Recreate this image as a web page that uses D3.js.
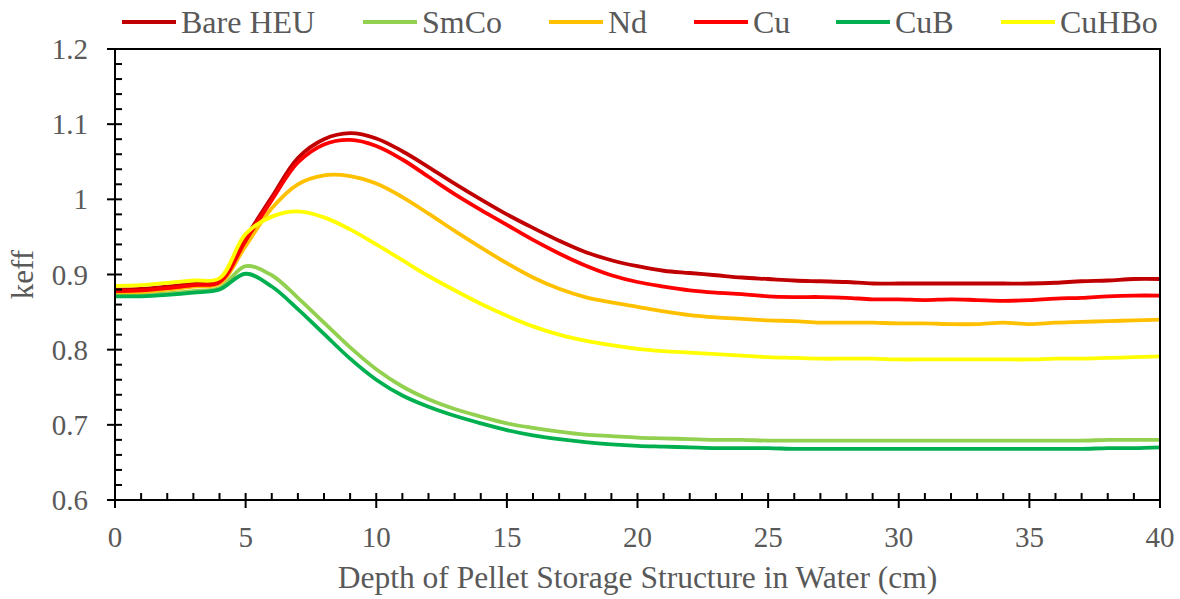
<!DOCTYPE html>
<html>
<head>
<meta charset="utf-8">
<script src="https://cdn.jsdelivr.net/npm/d3@7"></script>
<style>
  body { margin: 0; background: #fff; }
</style>
</head>
<body>
<div id="chart"></div>
<script>
// depth in cm, one point per cm
const depth = d3.range(0, 41)

const bareHEU = [0.880, 0.881, 0.884, 0.888, 0.894, 0.949, 1.003, 1.055, 1.080, 1.088,
  1.081, 1.064, 1.043, 1.021, 1.000, 0.980, 0.962, 0.945, 0.930, 0.919,
  0.911, 0.905, 0.902, 0.899, 0.896, 0.894, 0.892, 0.891, 0.890, 0.888,
  0.888, 0.888, 0.888, 0.888, 0.888, 0.888, 0.889, 0.891, 0.892, 0.894, 0.894]
const smco = [0.872, 0.873, 0.875, 0.878, 0.882, 0.911, 0.899, 0.869, 0.836, 0.803,
  0.774, 0.751, 0.734, 0.721, 0.711, 0.702, 0.696, 0.691, 0.687, 0.685,
  0.683, 0.682, 0.681, 0.680, 0.680, 0.679, 0.679, 0.679, 0.679, 0.679,
  0.679, 0.679, 0.679, 0.679, 0.679, 0.679, 0.679, 0.679, 0.680, 0.680, 0.680]
const nd = [0.876, 0.877, 0.880, 0.884, 0.888, 0.938, 0.988, 1.020, 1.032, 1.031,
  1.021, 1.003, 0.981, 0.958, 0.936, 0.915, 0.896, 0.881, 0.870, 0.863,
  0.857, 0.851, 0.846, 0.843, 0.841, 0.839, 0.838, 0.836, 0.836, 0.836,
  0.835, 0.835, 0.834, 0.834, 0.836, 0.834, 0.836, 0.837, 0.838, 0.839, 0.840]
const cu = [0.878, 0.879, 0.882, 0.886, 0.890, 0.945, 0.999, 1.049, 1.073, 1.079,
  1.071, 1.053, 1.030, 1.007, 0.986, 0.966, 0.946, 0.928, 0.912, 0.899,
  0.890, 0.884, 0.879, 0.876, 0.874, 0.871, 0.870, 0.870, 0.869, 0.867,
  0.867, 0.866, 0.867, 0.866, 0.865, 0.866, 0.868, 0.869, 0.871, 0.872, 0.872]
const cub = [0.871, 0.871, 0.873, 0.876, 0.880, 0.901, 0.884, 0.854, 0.821, 0.788,
  0.760, 0.739, 0.724, 0.712, 0.702, 0.693, 0.686, 0.681, 0.677, 0.674,
  0.672, 0.671, 0.670, 0.669, 0.669, 0.669, 0.668, 0.668, 0.668, 0.668,
  0.668, 0.668, 0.668, 0.668, 0.668, 0.668, 0.668, 0.668, 0.669, 0.669, 0.670]
const cuhbo = [0.885, 0.886, 0.889, 0.892, 0.895, 0.954, 0.977, 0.984, 0.976, 0.960,
  0.940, 0.919, 0.898, 0.879, 0.861, 0.845, 0.831, 0.820, 0.812, 0.806,
  0.801, 0.798, 0.796, 0.794, 0.792, 0.790, 0.789, 0.788, 0.788, 0.788,
  0.787, 0.787, 0.787, 0.787, 0.787, 0.787, 0.788, 0.788, 0.789, 0.790, 0.791]

const seriesNames = ['Bare HEU', 'SmCo', 'Nd', 'Cu', 'CuB', 'CuHBo']
const seriesValues = [bareHEU, smco, nd, cu, cub, cuhbo]
const seriesColors = ['#C00000', '#92D050', '#FFC000', '#FF0000', '#00B050', '#FFFF00']

const xTicks = [0, 5, 10, 15, 20, 25, 30, 35, 40]
const yTicks = [0.6, 0.7, 0.8, 0.9, 1.0, 1.1, 1.2]

const W = 1180, H = 599
const M = { left: 115, right: 20, top: 49, bottom: 99 }
const textColor = '#595959'
const serif = '"Liberation Serif", "DejaVu Serif", "Times New Roman", serif'

const svg = d3.select('#chart').append('svg')
  .attr('width', W).attr('height', H)
  .attr('font-family', serif)
  .style('display', 'block')

const x = d3.scaleLinear().domain([0, 40]).range([M.left, W - M.right])
const y = d3.scaleLinear().domain([0.6, 1.2]).range([H - M.bottom, M.top])

// ── Series ────────────────────────────────────────────────────────────────
const line = d3.line()
  .x(d => x(d[0]))
  .y(d => y(d[1]))
  .curve(d3.curveCatmullRom.alpha(0.5))

const lineLayer = svg.append('g')
seriesValues.forEach((vals, i) => {
  lineLayer.append('path')
    .datum(depth.map((d, j) => [d, vals[j]]))
    .attr('fill', 'none')
    .attr('stroke', seriesColors[i])
    .attr('stroke-width', 3.8)
    .attr('stroke-linejoin', 'round')
    .attr('d', line)
})

// ── Frame + ticks ────────────────────────────────────────────────────────
svg.append('rect')
  .attr('x', x(0)).attr('y', y(1.2))
  .attr('width', x(40) - x(0)).attr('height', y(0.6) - y(1.2))
  .attr('fill', 'none').attr('stroke', '#000').attr('stroke-width', 2)

const tickLayer = svg.append('g').attr('stroke', '#000').attr('stroke-width', 2)
d3.range(0.6, 1.2001, 0.02).forEach(v => {
  const major = Math.abs(Math.round(v * 10) - v * 10) < 1e-6
  tickLayer.append('line')
    .attr('x1', x(0) - (major ? 8 : 0)).attr('x2', x(0) + 7)
    .attr('y1', y(v)).attr('y2', y(v))
})
d3.range(0, 41, 1).forEach(v => {
  const major = v % 5 === 0
  tickLayer.append('line')
    .attr('x1', x(v)).attr('x2', x(v))
    .attr('y1', y(0.6) - 7).attr('y2', y(0.6) + (major ? 8 : 0))
})

// ── Tick labels ──────────────────────────────────────────────────────────
svg.append('g').selectAll('text')
  .data(yTicks)
  .join('text')
  .attr('x', x(0) - 27)
  .attr('y', d => y(d))
  .attr('dy', '0.35em')
  .attr('text-anchor', 'end')
  .attr('fill', textColor)
  .style('font-size', '29px')
  .text(d => d3.format('~g')(d))

svg.append('g').selectAll('text')
  .data(xTicks)
  .join('text')
  .attr('x', d => x(d))
  .attr('y', 547)
  .attr('text-anchor', 'middle')
  .attr('fill', textColor)
  .style('font-size', '29px')
  .text(d => d)

// ── Axis titles ──────────────────────────────────────────────────────────
svg.append('text')
  .attr('x', (x(0) + x(40)) / 2).attr('y', 588)
  .attr('text-anchor', 'middle')
  .attr('fill', textColor)
  .style('font-size', '31.5px')
  .text('Depth of Pellet Storage Structure in Water (cm)')

svg.append('text')
  .attr('transform', `translate(33, ${(y(0.6) + y(1.2)) / 2}) rotate(-90)`)
  .attr('text-anchor', 'middle')
  .attr('fill', textColor)
  .style('font-size', '31px')
  .text('keff')

// ── Legend ───────────────────────────────────────────────────────────────
const legendX = [122, 363, 549, 694, 836, 1001]
const leg = svg.append('g')
seriesNames.forEach((name, i) => {
  leg.append('line')
    .attr('x1', legendX[i]).attr('x2', legendX[i] + 54)
    .attr('y1', 22).attr('y2', 22)
    .attr('stroke', seriesColors[i]).attr('stroke-width', 4)
  leg.append('text')
    .attr('x', legendX[i] + 59).attr('y', 33)
    .attr('fill', textColor)
    .style('font-size', '32px')
    .text(name)
})
</script>
</body>
</html>
